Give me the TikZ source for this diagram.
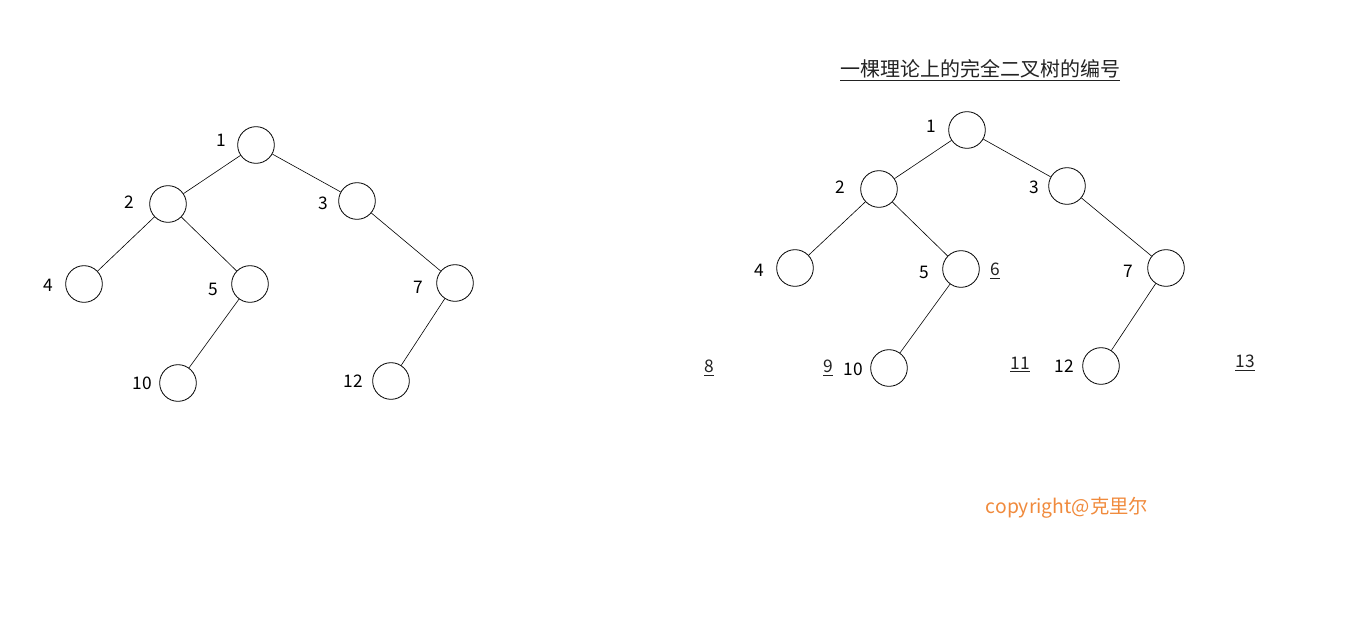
\documentclass[tikz,border=0pt]{standalone}
\usepackage{fontspec}
\setmainfont{Noto Sans CJK SC}
\definecolor{copyc}{HTML}{F08A3C}
\definecolor{ulc}{HTML}{222222}
\begin{document}
\begin{tikzpicture}[x=0.75pt,y=-0.75pt,
  tn/.style={circle,draw,line width=0.6pt,minimum size=27.5pt,inner sep=0pt},
  lb/.style={font=\fontsize{13}{15}\selectfont,inner sep=0pt},
  ul/.style={font=\fontsize{13}{15}\selectfont,inner sep=0pt,text=ulc},
  ed/.style={line width=0.45pt}]
\useasboundingbox (0,0) rectangle (1350,629);
% left tree
\node[tn] (a1) at (256,145) {};
\node[tn] (a2) at (168,204) {};
\node[tn] (a3) at (357,201) {};
\node[tn] (a4) at (84,284) {};
\node[tn] (a5) at (250,284) {};
\node[tn] (a7) at (455,283) {};
\node[tn] (a10) at (178,383) {};
\node[tn] (a12) at (391,381) {};
\node[lb] (la1) at (221,140) {1};
\node[lb] (la2) at (129,202) {2};
\node[lb] (la3) at (323,203) {3};
\node[lb] (la4) at (48,285) {4};
\node[lb] (la5) at (213,289) {5};
\node[lb] (la7) at (418,287) {7};
\node[lb] (la10) at (142,383) {10};
\node[lb] (la12) at (353,381) {12};
\draw[ed] (a1) -- (a2);
\draw[ed] (a1) -- (a3);
\draw[ed] (a2) -- (a4);
\draw[ed] (a2) -- (a5);
\draw[ed] (a3) -- (a7);
\draw[ed] (a5) -- (a10);
\draw[ed] (a7) -- (a12);
% right tree
\node[font=\fontsize{15}{18}\selectfont,inner sep=0pt,text=ulc] (title) at (980,70) {\underline{一棵理论上的完全二叉树的编号}};
\node[tn] (b1) at (967,130) {};
\node[tn] (b2) at (879,189) {};
\node[tn] (b3) at (1067,186) {};
\node[tn] (b4) at (795,268) {};
\node[tn] (b5) at (961,269) {};
\node[tn] (b7) at (1166,268) {};
\node[tn] (b10) at (889,368) {};
\node[tn] (b12) at (1101,366) {};
\node[lb] (lb1) at (931,126) {1};
\node[lb] (lb2) at (840,187) {2};
\node[lb] (lb3) at (1034,187) {3};
\node[lb] (lb4) at (759,270) {4};
\node[lb] (lb5) at (924,272) {5};
\node[lb] (lb7) at (1128,271) {7};
\node[lb] (lb10) at (853,369) {10};
\node[lb] (lb12) at (1064,366) {12};
\node[ul] (u6) at (995,271) {\underline{6}};
\node[ul] (u8) at (709,368) {\underline{8}};
\node[ul] (u9) at (828,368) {\underline{9}};
\node[ul] (u11) at (1020,365) {\underline{11}};
\node[ul] (u13) at (1245,363) {\underline{13}};
\draw[ed] (b1) -- (b2);
\draw[ed] (b1) -- (b3);
\draw[ed] (b2) -- (b4);
\draw[ed] (b2) -- (b5);
\draw[ed] (b3) -- (b7);
\draw[ed] (b5) -- (b10);
\draw[ed] (b7) -- (b12);
\node[font=\fontsize{14.5}{17}\selectfont,inner sep=0pt,text=copyc] (copy) at (1067,508) {copyright@克里尔};
\end{tikzpicture}
\end{document}
